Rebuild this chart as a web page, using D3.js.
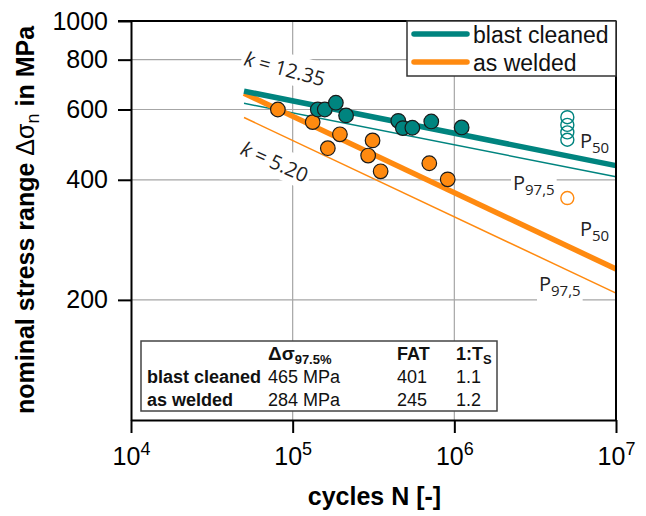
<!DOCTYPE html>
<html>
<head>
<meta charset="utf-8">
<script src="https://cdn.jsdelivr.net/npm/d3@7"></script>
<style>
  body { margin: 0; background: #fff; }
  svg { display: block; }
  .axis text { font-family: "Liberation Sans", Arial, sans-serif; font-size: 25px; fill: #000; }
  .axis path, .axis line { stroke: #000; stroke-width: 2; }
  .grid line { stroke: #a6a6a6; stroke-width: 1.2; }
  .note { font-family: "Open Sans", sans-serif; fill: #222; }
  .tbl { font-family: "Liberation Sans", Arial, sans-serif; font-size: 18px; fill: #111; }
</style>
</head>
<body>
<div id="chart"></div>
<script>
var svgWidth = 646;
var svgHeight = 516;

var margin = { top: 21, right: 30, bottom: 96, left: 131 };
var width = svgWidth - margin.left - margin.right;
var height = svgHeight - margin.top - margin.bottom;

// test results (cycles, stress range in MPa)
var blastN = [1.43e5, 1.58e5, 1.85e5, 2.14e5, 4.5e5, 4.8e5, 5.5e5, 7.2e5, 1.11e6];
var blastS = [600, 600, 624, 580, 562, 539, 540, 560, 541];
var weldN = [8.1e4, 1.33e5, 1.65e5, 1.96e5, 2.93e5, 3.12e5, 3.5e5, 7.0e5, 9.1e5];
var weldS = [600, 558, 480, 520, 460, 502, 420, 440, 401];

// run-outs
var blastRunoutN = [5e6, 5e6, 5e6, 5e6];
var blastRunoutS = [574, 549, 526, 504];
var weldRunoutN = [5e6];
var weldRunoutS = [360];

// S-N curves
var curveN = [5e4, 1e7];
var blastP50 = [667, 434];
var blastP975 = [622, 407];
var weldP50 = [659, 239];
var weldP975 = [573, 208];

var xTicks = [1e4, 1e5, 1e6, 1e7];
var yTicks = [200, 400, 600, 800, 1000];
var xGrid = [1e5, 1e6];
var yGrid = [200, 400, 600, 800];

var teal = "#00847f";
var orange = "#ff8a10";

var svg = d3.select("#chart")
  .append("svg")
    .attr("width", svgWidth)
    .attr("height", svgHeight);

var chartGroup = svg.append("g")
  .attr("transform", `translate(${margin.left}, ${margin.top})`);

var x = d3.scaleLog().domain([1e4, 1e7]).range([0, width]);
var y = d3.scaleLog().domain([100, 1000]).range([height, 0]);

// grid
var grid = chartGroup.append("g").attr("class", "grid");
grid.selectAll(".gx").data(xGrid).enter().append("line")
  .attr("x1", d => x(d)).attr("x2", d => x(d))
  .attr("y1", 0).attr("y2", height);
grid.selectAll(".gy").data(yGrid).enter().append("line")
  .attr("x1", 0).attr("x2", width)
  .attr("y1", d => y(d)).attr("y2", d => y(d));

// labels layer sits between grid and data
var labelLayer = svg.append("g");
var dataLayer = svg.append("g")
  .attr("transform", `translate(${margin.left}, ${margin.top})`);

// labels with white background
function boxedLabel(g, tx, ty, rot, build, pad) {
  var grp = g.append("g").attr("transform", `translate(${tx},${ty}) rotate(${rot})`);
  var bg = grp.append("rect").attr("fill", "#fff");
  var t = grp.append("text").attr("class", "note");
  build(t);
  var bb = t.node().getBBox();
  bg.attr("x", bb.x - pad).attr("y", bb.y - pad / 2)
    .attr("width", bb.width + 2 * pad).attr("height", bb.height + pad);
  return grp;
}

boxedLabel(labelLayer, 285, 68, 15, function(t) {
  t.attr("text-anchor", "middle").attr("dominant-baseline", "central").attr("font-size", 20);
  t.append("tspan").attr("font-style", "italic").text("k");
  t.append("tspan").text(" = 12.35");
}, 3);

boxedLabel(labelLayer, 275, 161, 24, function(t) {
  t.attr("text-anchor", "middle").attr("dominant-baseline", "central").attr("font-size", 20);
  t.append("tspan").attr("font-style", "italic").text("k");
  t.append("tspan").text(" = 5.20");
}, 3);

function pLabel(g, tx, ty, sub, boxed) {
  var build = function(t) {
    t.attr("font-size", 20);
    t.append("tspan").text("P");
    t.append("tspan").attr("font-size", 15).attr("dy", 5).text(sub);
  };
  if (boxed) return boxedLabel(g, tx, ty, 0, build, 2);
  var t = g.append("text").attr("class", "note").attr("x", tx).attr("y", ty);
  build(t);
}

pLabel(labelLayer, 580, 148, "50", false);
pLabel(labelLayer, 513, 190, "97,5", true);
pLabel(labelLayer, 580, 236, "50", false);
pLabel(labelLayer, 539, 291, "97,5", true);

// table
var tbl = labelLayer.append("g");
tbl.append("rect")
  .attr("x", 141).attr("y", 341).attr("width", 356).attr("height", 70)
  .attr("fill", "#fff").attr("stroke", "#444").attr("stroke-width", 1.5);

var tblCols = [147, 268, 397, 456];
var head = tbl.append("text").attr("class", "tbl").attr("font-weight", "bold")
  .attr("x", tblCols[1]).attr("y", 360);
head.append("tspan").attr("font-size", 19).text("Δσ");
head.append("tspan").attr("font-size", 13).attr("dy", 4).text("97.5%");
tbl.append("text").attr("class", "tbl").attr("font-weight", "bold")
  .attr("x", tblCols[2]).attr("y", 360).text("FAT");
var ts = tbl.append("text").attr("class", "tbl").attr("font-weight", "bold")
  .attr("x", tblCols[3]).attr("y", 360);
ts.append("tspan").text("1:T");
ts.append("tspan").attr("font-size", 13).attr("dy", 4).text("S");

var rowNames = ["blast cleaned", "as welded"];
var rowDs = ["465 MPa", "284 MPa"];
var rowFat = ["401", "245"];
var rowTs = ["1.1", "1.2"];
rowNames.forEach(function(name, i) {
  var yy = 383 + i * 23;
  tbl.append("text").attr("class", "tbl").attr("font-weight", "bold")
    .attr("x", tblCols[0]).attr("y", yy).text(name);
  tbl.append("text").attr("class", "tbl").attr("x", tblCols[1]).attr("y", yy).text(rowDs[i]);
  tbl.append("text").attr("class", "tbl").attr("x", tblCols[2]).attr("y", yy).text(rowFat[i]);
  tbl.append("text").attr("class", "tbl").attr("x", tblCols[3]).attr("y", yy).text(rowTs[i]);
});

// curves
var line = d3.line().x(d => x(d[0])).y(d => y(d[1]));
function curve(vals, color, w) {
  dataLayer.append("path")
    .datum(curveN.map((n, i) => [n, vals[i]]))
    .attr("d", line)
    .attr("fill", "none")
    .attr("stroke", color)
    .attr("stroke-width", w);
}
curve(blastP975, teal, 1.5);
curve(weldP975, orange, 1.5);
curve(weldP50, orange, 5.5);
curve(blastP50, teal, 5.5);

// points
function points(ns, ss, color) {
  dataLayer.selectAll(null)
    .data(ns.map((n, i) => [n, ss[i]]))
    .enter()
    .append("circle")
    .attr("cx", d => x(d[0]))
    .attr("cy", d => y(d[1]))
    .attr("r", 7.3)
    .attr("fill", color)
    .attr("stroke", "#1a1a1a")
    .attr("stroke-width", 1.2);
}
points(weldN, weldS, orange);
points(blastN, blastS, teal);

function runouts(ns, ss, color) {
  dataLayer.selectAll(null)
    .data(ns.map((n, i) => [n, ss[i]]))
    .enter()
    .append("circle")
    .attr("cx", d => x(d[0]))
    .attr("cy", d => y(d[1]))
    .attr("r", 6.5)
    .attr("fill", "none")
    .attr("stroke", color)
    .attr("stroke-width", 1.4);
}
runouts(blastRunoutN, blastRunoutS, teal);
runouts(weldRunoutN, weldRunoutS, orange);

// frame
dataLayer.append("line").attr("x1", -13).attr("x2", width).attr("y1", 0).attr("y2", 0)
  .attr("stroke", "#000").attr("stroke-width", 2);
dataLayer.append("line").attr("x1", width).attr("x2", width).attr("y1", 0).attr("y2", height)
  .attr("stroke", "#000").attr("stroke-width", 2);

// axes
var leftAxis = d3.axisLeft(y).tickValues(yTicks).tickFormat(d3.format("d"))
  .tickSize(13).tickSizeOuter(0).tickPadding(10);
dataLayer.append("g").attr("class", "axis").call(leftAxis);

var bottomAxis = d3.axisBottom(x).tickValues(xTicks).tickFormat("")
  .tickSize(13).tickSizeOuter(0);
var xAxisG = dataLayer.append("g").attr("class", "axis")
  .attr("transform", `translate(0, ${height})`)
  .call(bottomAxis);

xAxisG.selectAll(".tick").append("text")
  .attr("y", 45)
  .attr("text-anchor", "middle")
  .each(function(d) {
    var t = d3.select(this);
    t.append("tspan").text("10");
    t.append("tspan").attr("font-size", 18).attr("dy", -10).text(Math.round(Math.log10(d)));
  });

// legend
var legend = svg.append("g");
legend.append("rect")
  .attr("x", 407).attr("y", 21).attr("width", 209).attr("height", 55)
  .attr("fill", "#fff").attr("stroke", "#333").attr("stroke-width", 1.5);
var legItems = [["blast cleaned", teal], ["as welded", orange]];
legItems.forEach(function(it, i) {
  var yy = 34 + i * 28;
  legend.append("line").attr("x1", 414).attr("x2", 467).attr("y1", yy).attr("y2", yy)
    .attr("stroke", it[1]).attr("stroke-width", 5.5).attr("stroke-linecap", "round");
  legend.append("text").attr("x", 473).attr("y", yy + 9)
    .attr("font-family", "Liberation Sans, Arial, sans-serif").attr("font-size", 23)
    .attr("fill", "#111").text(it[0]);
});

// axis titles
svg.append("text")
  .attr("transform", `translate(${margin.left + width / 2 + 1}, 505)`)
  .attr("text-anchor", "middle")
  .attr("font-family", "Liberation Sans, Arial, sans-serif")
  .attr("font-weight", "bold").attr("font-size", 25)
  .text("cycles N [-]");

var yTitle = svg.append("text")
  .attr("transform", "translate(34, 220) rotate(-90)")
  .attr("text-anchor", "middle")
  .attr("font-family", "Liberation Sans, Arial, sans-serif")
  .attr("font-weight", "bold").attr("font-size", 25);
yTitle.append("tspan").text("nominal stress range ");
yTitle.append("tspan").attr("font-weight", "normal").text("Δσ");
yTitle.append("tspan").attr("font-weight", "normal").attr("font-size", 18).attr("dy", 5).text("n");
yTitle.append("tspan").attr("dy", -5).text(" in MPa");
</script>
</body>
</html>
